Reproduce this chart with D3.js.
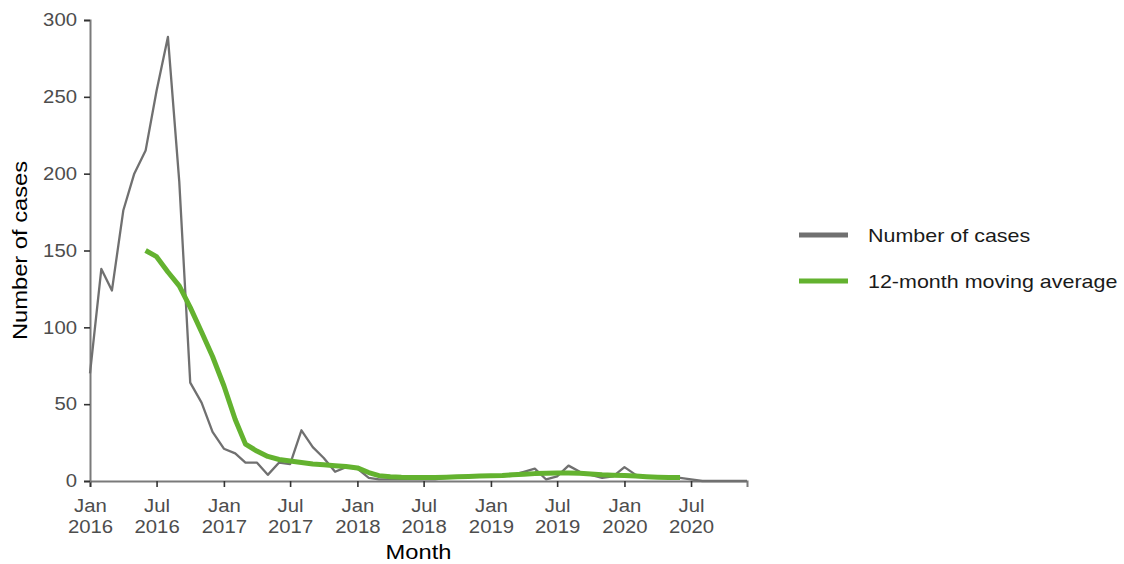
<!DOCTYPE html>
<meta charset="utf-8">
<style>
  body { margin: 0; background: #fff; }
  text { font-family: "Liberation Sans", Arial, sans-serif; }
</style>

<!-- Load d3.js -->
<script src="https://d3js.org/d3.v7.min.js"></script>

<div id="my_dataviz"></div>

<script>

// months from Jan 2016 to Dec 2020
var months = d3.timeMonth.range(new Date(2016, 0, 1), new Date(2021, 0, 1));

// monthly number of cases
var cases = [70, 138, 124, 176, 200, 215, 254, 289, 195, 64, 51, 32,
             21, 18, 12, 12, 4, 12, 11, 33, 22, 15, 6, 9,
             8, 2, 1, 1, 1, 1, 1, 1, 2, 2, 3, 3,
             3, 3, 4, 6, 8, 1, 3, 10, 6, 4, 2, 3,
             9, 4, 2, 2, 2, 2, 1, 0, 0, 0, 0, 0];

// 12-month moving average, Jun 2016 to Jun 2020
var avgStart = 5;
var movingAvg = [150, 146, 136, 127, 113, 97, 81,
                 62, 40, 24, 19.5, 16, 14, 13, 12, 11, 10.5, 10, 9.5,
                 8.5, 5.5, 3.5, 2.8, 2.4, 2.2, 2.2, 2.2, 2.5, 2.8, 3, 3.2,
                 3.4, 3.6, 4, 4.4, 4.8, 5, 5.2, 5.2, 5, 4.5, 4, 3.8,
                 3.6, 3.2, 2.8, 2.5, 2.3, 2.2];

// tick labels
var xTicks = [["Jan", "2016"], ["Jul", "2016"], ["Jan", "2017"], ["Jul", "2017"], ["Jan", "2018"],
              ["Jul", "2018"], ["Jan", "2019"], ["Jul", "2019"], ["Jan", "2020"], ["Jul", "2020"]];
var yTicks = [0, 50, 100, 150, 200, 250, 300];

var seriesNames = ["Number of cases", "12-month moving average"];
var seriesColors = ["#707070", "#63b22f"];

var width = 1124, height = 564;
var margin = {top: 20, left: 90, right: 377, bottom: 83};
var stretch = 1.13;   // the original text is a bit wide

var svg = d3.select("#my_dataviz")
  .append("svg")
    .attr("width", width)
    .attr("height", height);

var parseTick = d3.timeParse("%b %Y");

var x = d3.scaleTime()
  .domain([months[0], months[months.length - 1]])
  .range([margin.left, width - margin.right]);

var y = d3.scaleLinear()
  .domain([0, 300])
  .range([height - margin.bottom, margin.top]);

// X axis
var xAxis = svg.append("g")
  .attr("transform", "translate(0," + y(0) + ")")
  .call(d3.axisBottom(x)
    .tickValues(xTicks.map(function(t) { return parseTick(t[0] + " " + t[1]); }))
    .tickSize(6)
    .tickFormat(""));
xAxis.select(".domain").attr("stroke", "#7a7a7a").attr("stroke-width", 2);
xAxis.selectAll(".tick line").attr("stroke", "#333").attr("stroke-width", 1.6);
xAxis.selectAll(".tick").each(function(d, i) {
  var t = d3.select(this).append("text")
    .attr("fill", "#4d4d4d")
    .attr("font-size", 18)
    .attr("text-anchor", "middle")
    .attr("transform", "scale(" + stretch + ",1)");
  t.append("tspan").attr("x", 0).attr("y", 31).text(xTicks[i][0]);
  t.append("tspan").attr("x", 0).attr("y", 52).text(xTicks[i][1]);
});

// Y axis
var yAxis = svg.append("g")
  .attr("transform", "translate(" + margin.left + ",0)")
  .call(d3.axisLeft(y).tickValues(yTicks).tickSize(6).tickPadding(6));
yAxis.select(".domain").attr("stroke", "#7a7a7a").attr("stroke-width", 2);
yAxis.selectAll(".tick line").attr("stroke", "#333").attr("stroke-width", 1.6);
yAxis.selectAll(".tick text")
  .attr("fill", "#4d4d4d")
  .attr("font-size", 18)
  .attr("font-family", "Liberation Sans, Arial, sans-serif")
  .attr("x", -13 / stretch)
  .attr("transform", "scale(" + stretch + ",1)");

// axis titles
svg.append("text")
  .attr("transform", "translate(" + ((margin.left + width - margin.right) / 2) + ",559) scale(" + stretch + ",1)")
  .attr("text-anchor", "middle")
  .attr("font-size", 21)
  .attr("fill", "#000")
  .text("Month");

svg.append("text")
  .attr("transform", "translate(27," + ((margin.top + height - margin.bottom) / 2) + ") rotate(-90) scale(" + stretch + ",1)")
  .attr("text-anchor", "middle")
  .attr("font-size", 21)
  .attr("fill", "#000")
  .text("Number of cases");

// lines
var line = d3.line()
  .x(function(d) { return x(d.date); })
  .y(function(d) { return y(d.value); });

var caseData = cases.map(function(v, i) { return {date: months[i], value: v}; });
var avgData = movingAvg.map(function(v, i) { return {date: months[avgStart + i], value: v}; });

svg.append("path")
  .datum(caseData)
  .attr("fill", "none")
  .attr("stroke", seriesColors[0])
  .attr("stroke-width", 2.3)
  .attr("stroke-linejoin", "round")
  .attr("d", line);

svg.append("path")
  .datum(avgData)
  .attr("fill", "none")
  .attr("stroke", seriesColors[1])
  .attr("stroke-width", 5)
  .attr("stroke-linejoin", "round")
  .attr("d", line);

// legend
var legend = svg.selectAll(".legend")
  .data(seriesNames)
  .enter()
  .append("g")
    .attr("class", "legend")
    .attr("transform", function(d, i) { return "translate(799," + (235 + i * 46) + ")"; });

legend.append("line")
  .attr("x1", 0).attr("x2", 49)
  .attr("stroke", function(d, i) { return seriesColors[i]; })
  .attr("stroke-width", 5);

legend.append("text")
  .attr("transform", "translate(69,0) scale(" + stretch + ",1)")
  .attr("dy", "0.35em")
  .attr("font-size", 19)
  .attr("fill", "#1a1a1a")
  .text(function(d) { return d; });

</script>
